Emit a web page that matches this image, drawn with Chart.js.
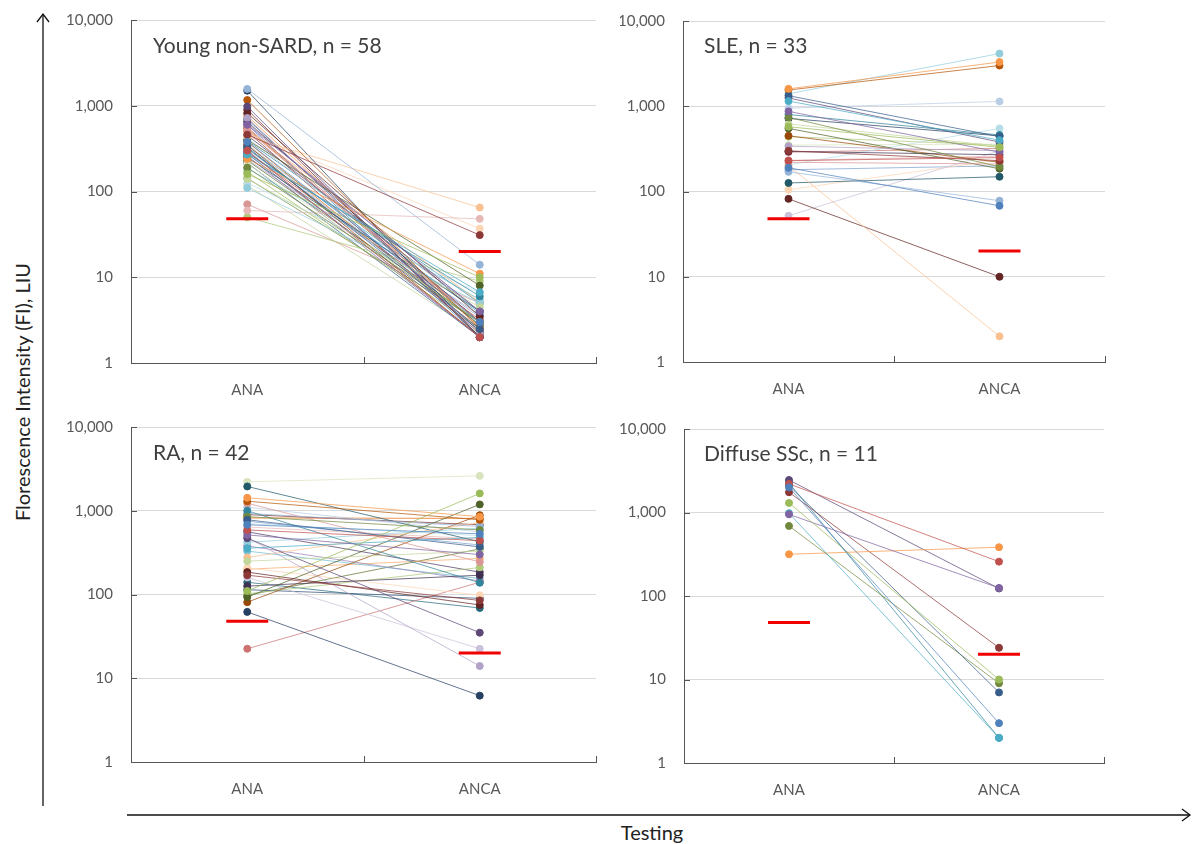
<!DOCTYPE html>
<html>
<head>
<meta charset="utf-8">
<title>ANA vs ANCA</title>
<script src="https://cdn.jsdelivr.net/npm/chart.js@4.4.0/dist/chart.umd.min.js"></script>
<style>
  body { margin: 0; background: #fff; width: 1193px; height: 844px; overflow: hidden; position: relative; font-family: Lato, "Open Sans", sans-serif; }
  canvas { position: absolute; }
  svg { position: absolute; left: 0; top: 0; }
  .ttl { position: absolute; font-size: 21px; color: #404040; white-space: nowrap; line-height: 21px; }
  .anchor { position: absolute; width: 0; height: 0; }
  .anchor span { position: absolute; left: 0; top: 0; white-space: nowrap; color: #222; font-size: 20px; line-height: 22px; }
  #yTitle span { transform: translate(-50%, -50%) rotate(-90deg); }
  #xTitle span { transform: translate(-50%, -50%); }
</style>
</head>
<body>
<svg width="1193" height="844">
  <line x1="43" y1="806" x2="43" y2="14" stroke="#111" stroke-width="1.3"/>
  <polyline points="37,22 43,14 49,22" fill="none" stroke="#111" stroke-width="1.3"/>
  <line x1="127" y1="815" x2="1190" y2="815" stroke="#111" stroke-width="1.3"/>
  <polyline points="1182,809 1190,815 1182,821" fill="none" stroke="#111" stroke-width="1.3"/>
</svg>
<div id="yTitle" class="anchor" style="left:22px; top:392px;"><span>Florescence Intensity (FI), LIU</span></div>
<div id="xTitle" class="anchor" style="left:652px; top:832px;"><span>Testing</span></div>
<script>
// categories and axis ticks
const categories = ['ANA', 'ANCA'];
const yTicks = [1, 10, 100, 1000, 10000];
const cutoffs = [48, 20];   // red cut-off marks: ANA, ANCA

const panelTitles = ['Young non-SARD, n = 58', 'SLE, n = 33', 'RA, n = 42', 'Diffuse SSc, n = 11'];

// Young non-SARD
const youngAna = [380, 300, 160, 600, 270, 240, 330, 460, 190, 980, 280, 1166, 1570, 520, 140, 720, 110, 440, 1500, 820,
  400, 650, 250, 350, 420, 60, 210, 360, 126, 480, 300, 560, 50, 620, 186, 520, 700, 900, 230, 450,
  320, 380, 600, 290, 170, 260, 340, 760, 215, 500, 143, 275, 390, 545, 310, 71, 118, 236];
const youngAnca = [3, 2, 10, 4, 6.7, 11, 2.5, 31, 3, 2, 6, 2.5, 14, 3, 4.5, 2.2, 5, 65, 2, 3.5,
  8, 3, 4, 2, 4, 48, 3, 2.5, 6.5, 37, 2, 3, 9, 4, 5.5, 5.1, 2.3, 2, 3, 4,
  2.8, 2.5, 2, 3.2, 2.5, 2, 3.8, 2.6, 2, 2.2, 3, 2.4, 5, 2.7, 3.4, 5, 2.2, 3.6];

// SLE
const sleAna = [190, 230, 575, 870, 1150, 1600, 1330, 300, 740, 1250, 800, 1550, 170, 220, 620, 340, 1400, 200, 720, 82,
  550, 295, 126, 450, 950, 232, 350, 52, 205, 105, 180, 290, 440];
const sleAnca = [68, 250, 330, 290, 400, 3300, 440, 230, 195, 380, 460, 3000, 78, 210, 340, 300, 4150, 2, 450, 10,
  185, 270, 149, 220, 1140, 260, 360, 300, 550, 235, 200, 320, 350];

// RA
const raAna = [680, 590, 110, 515, 357, 1430, 780, 170, 850, 470, 1000, 1300, 930, 1230, 250, 480, 420, 277, 62, 185,
  93, 126, 1950, 81, 1100, 640, 2215, 160, 700, 208, 750, 22.5, 102, 380, 330, 200, 114, 900, 98, 560, 140, 820];
const raAnca = [530, 440, 1610, 300, 480, 850, 370, 85, 590, 35, 138, 780, 650, 245, 330, 14, 620, 720, 6.2, 75,
  1190, 170, 425, 885, 560, 460, 2610, 22.5, 505, 98, 390, 140, 210, 145, 155, 270, 90, 680, 350, 185, 69, 810];

// Diffuse SSc
const sscAna = [2000, 2200, 1300, 950, 980, 316, 2100, 1750, 690, 2450, 2250];
const sscAnca = [3, 258, 10, 125, 2, 384, 7, 24, 9, 123, 2];

// office-style series colours
const palette = [
  '#4F81BD', '#C0504D', '#9BBB59', '#8064A2', '#4BACC6', '#F79646',
  '#385D8A', '#8C3836', '#71893F', '#5C4776', '#31859C', '#B65708',
  '#95B3D7', '#D99694', '#C3D69B', '#B3A2C7', '#93CDDD', '#FAC090',
  '#254061', '#632523', '#4F6228', '#403152', '#215968', '#984807',
  '#B9CDE5', '#E6B9B8', '#D7E4BD', '#CCC1DA', '#B7DEE8', '#FCD5B5',
  '#7BA0CD', '#CD7371', '#AFC97A', '#9983B5', '#6FBDD1', '#F9AB6B',
  '#2C4D75', '#772C2A', '#5F7530', '#4D3B62', '#276A7C', '#E46C0A'];

const AXIS = '#555';
const GRID = '#d9d9d9';
const LABEL = '#595959';

// canvas boxes; the y scale adds ~27px above the plot for its top label
const panels = [
  { ana: youngAna, anca: youngAnca, left: 40, top: -7, w: 580, h: 412, yW: 91, padRight: 11, xH: 42, tx: 153, ty: 34 },
  { ana: sleAna, anca: sleAnca, left: 620, top: -6, w: 573, h: 411, yW: 63, padRight: 88, xH: 43, tx: 704, ty: 34 },
  { ana: raAna, anca: raAnca, left: 40, top: 400, w: 580, h: 410, yW: 91, padRight: 11, xH: 48, tx: 153, ty: 441 },
  { ana: sscAna, anca: sscAnca, left: 620, top: 402, w: 573, h: 408, yW: 64, padRight: 89, xH: 47, tx: 704, ty: 442 },
];

const innerTicks = {
  id: 'innerTicks',
  afterDraw(chart) {
    const { ctx, chartArea: a, scales: { y } } = chart;
    ctx.save();
    ctx.strokeStyle = AXIS;
    ctx.lineWidth = 1;
    ctx.beginPath();
    y.ticks.forEach((t) => {
      const py = Math.round(y.getPixelForValue(t.value)) + 0.5;
      ctx.moveTo(a.left, py);
      ctx.lineTo(a.left + 6, py);
    });
    [a.left, (a.left + a.right) / 2, a.right].forEach((px) => {
      const x = Math.round(px) + 0.5;
      ctx.moveTo(x, a.bottom);
      ctx.lineTo(x, a.bottom - 6);
    });
    ctx.stroke();
    ctx.restore();
  },
};

function buildDatasets(ana, anca) {
  const sets = [{
    data: cutoffs,
    showLine: false,
    pointStyle: 'line',
    pointRadius: 21,
    pointBorderWidth: 3,
    pointBorderColor: '#f00000',
    borderColor: '#f00000',
    order: -1,
  }];
  ana.forEach((v, i) => {
    const c = palette[i % palette.length];
    sets.push({
      data: [v, anca[i]],
      borderColor: c + 'B8',
      borderWidth: 1,
      pointRadius: 3.5,
      pointBackgroundColor: c,
      pointBorderColor: c,
      pointBorderWidth: 1,
      order: 1,
    });
  });
  return sets;
}

panels.forEach((p, idx) => {
  const cv = document.createElement('canvas');
  cv.width = p.w;
  cv.height = p.h;
  cv.style.left = p.left + 'px';
  cv.style.top = p.top + 'px';
  cv.style.width = p.w + 'px';
  cv.style.height = p.h + 'px';
  document.body.appendChild(cv);

  const t = document.createElement('div');
  t.className = 'ttl';
  t.style.left = p.tx + 'px';
  t.style.top = p.ty + 'px';
  t.textContent = panelTitles[idx];
  document.body.appendChild(t);

  new Chart(cv, {
    type: 'line',
    data: { labels: categories, datasets: buildDatasets(p.ana, p.anca) },
    options: {
      responsive: false,
      animation: false,
      events: [],
      layout: { padding: { top: 0, right: p.padRight, bottom: 0, left: 0 } },
      plugins: { legend: { display: false }, tooltip: { enabled: false } },
      scales: {
        x: {
          type: 'category',
          offset: true,
          grid: { display: false, drawTicks: false },
          border: { display: true, color: AXIS, width: 1 },
          ticks: { color: LABEL, font: { family: 'Lato', size: 15 }, padding: 18 },
          afterFit: (s) => { s.height = p.xH; },
        },
        y: {
          type: 'logarithmic',
          min: 1,
          max: 10000,
          afterBuildTicks: (s) => { s.ticks = yTicks.map((v) => ({ value: v, major: true })); },
          grid: { color: GRID, lineWidth: 1, drawTicks: false },
          border: { display: true, color: AXIS, width: 1 },
          ticks: {
            color: LABEL,
            font: { family: 'Lato', size: 15 },
            padding: 18,
            callback: (v) => Number(v).toLocaleString('en-US'),
          },
          afterFit: (s) => { s.width = p.yW; },
        },
      },
    },
    plugins: [innerTicks],
  });
});
</script>
</body>
</html>
